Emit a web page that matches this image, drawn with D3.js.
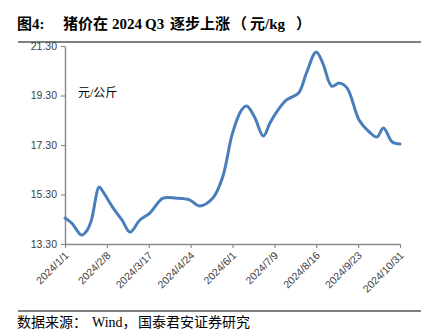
<!DOCTYPE html>
<html><head><meta charset="utf-8">
<script src="https://cdn.jsdelivr.net/npm/d3@7"></script>
<style>
html,body{margin:0;padding:0;background:#fff;}
svg{display:block;}
</style></head>
<body>
<svg id="c" width="437" height="334"></svg>
<script>
const dates = ["2024-01-01","2024-01-07","2024-01-16","2024-01-21","2024-01-25","2024-02-01","2024-02-04","2024-02-13","2024-02-22","2024-02-29","2024-03-09","2024-03-18","2024-03-30","2024-04-11","2024-04-23","2024-05-02","2024-05-14","2024-05-23","2024-06-01","2024-06-09","2024-06-14","2024-06-21","2024-06-29","2024-07-05","2024-07-11","2024-07-20","2024-07-31","2024-08-07","2024-08-16","2024-08-22","2024-08-30","2024-09-06","2024-09-13","2024-09-24","2024-10-03","2024-10-10","2024-10-16","2024-10-24","2024-10-31"];
const prices = [14.35,14.15,13.66,13.85,14.27,15.6,15.45,14.8,14.25,13.78,14.27,14.55,15.15,15.15,15.08,14.84,15.15,16.0,17.78,18.7,18.88,18.43,17.66,18.19,18.63,19.12,19.4,20.2,21.06,20.6,19.68,19.8,19.6,18.3,17.83,17.62,17.99,17.42,17.34];
const yTicks = [13.3,15.3,17.3,19.3,21.3];
const xTickLabels = ["2024/1/1","2024/2/8","2024/3/17","2024/4/24","2024/6/1","2024/7/9","2024/8/16","2024/9/23","2024/10/31"];
const titleParts = ["图4:","猪价在","2024","Q3","逐步上涨","（","元/kg","）"];
const unitLabel = "元/公斤";
const sourceParts = ["数据来源：","Wind，","国泰君安证券研究"];

const parse = d3.timeParse("%Y-%m-%d");
const data = dates.map((d,i)=>({date:parse(d), v:prices[i]}));
const svg = d3.select("#c");

const x = d3.scaleTime().domain([parse("2024-01-01"), parse("2024-10-31")]).range([65,400]);
const y = d3.scaleLinear().domain([13.3,21.3]).range([244,46]);

// title
const titleX = [17,63,112,145,170,232,250,296];
const tt = svg.append("text").attr("y",29)
  .attr("font-family","'Liberation Serif','Noto Sans CJK SC',serif")
  .attr("font-weight","bold").attr("font-size",15).attr("fill","#000");
titleParts.forEach((p,i)=>tt.append("tspan").attr("x",titleX[i]).text(p));
svg.append("line").attr("x1",18).attr("x2",421).attr("y1",42).attr("y2",42)
  .attr("stroke","#808080").attr("stroke-width",2.2);

// y axis
const yAxis = d3.axisLeft(y).tickValues(yTicks).tickFormat(d3.format(".2f")).tickSize(4).tickSizeOuter(0);
const gy = svg.append("g").attr("transform","translate(65,0)").call(yAxis);
gy.select(".domain").attr("stroke","#8c8c8c").attr("stroke-width",1.5);
gy.selectAll(".tick line").attr("stroke","#8c8c8c").attr("stroke-width",1.2);
gy.selectAll(".tick text").attr("font-family","'Liberation Sans',Arial,sans-serif").attr("font-size",10.5).attr("fill","#404040").attr("x",-8);

// x axis
const xTickDates = xTickLabels.map(s=>d3.timeParse("%Y/%m/%d")(s));
const xAxis = d3.axisBottom(x).tickValues(xTickDates).tickFormat(d3.timeFormat("%Y/%-m/%-d")).tickSize(4).tickSizeOuter(0);
const gx = svg.append("g").attr("transform","translate(0,244)").call(xAxis);
gx.select(".domain").attr("stroke","#8c8c8c").attr("stroke-width",1.5);
gx.selectAll(".tick line").attr("stroke","#8c8c8c").attr("stroke-width",1.2);
gx.selectAll(".tick text").attr("font-family","'Liberation Sans',Arial,sans-serif").attr("font-size",10.5).attr("fill","#404040")
  .attr("text-anchor","end").attr("dy",0).attr("y",0)
  .attr("transform","translate(4,12) rotate(-45)");

// unit label
svg.append("text").attr("x",78).attr("y",97)
  .attr("font-family","'Liberation Serif','Noto Sans CJK SC',serif")
  .attr("font-size",12).attr("fill","#000").text(unitLabel);

// line
const line = d3.line().x(d=>x(d.date)).y(d=>y(d.v)).curve(d3.curveCatmullRom.alpha(0.5));
svg.append("path").datum(data).attr("d",line).attr("fill","none")
  .attr("stroke","#4a7ebb").attr("stroke-width",3).attr("stroke-linejoin","round").attr("stroke-linecap","round");

// source
svg.append("line").attr("x1",18).attr("x2",421).attr("y1",311).attr("y2",311)
  .attr("stroke","#808080").attr("stroke-width",1.8);
const srcX = [17,92,138];
const st = svg.append("text").attr("y",327)
  .attr("font-family","'Liberation Serif','Noto Sans CJK SC',serif")
  .attr("font-size",14).attr("fill","#000");
sourceParts.forEach((p,i)=>st.append("tspan").attr("x",srcX[i]).text(p));
</script>
</body></html>
